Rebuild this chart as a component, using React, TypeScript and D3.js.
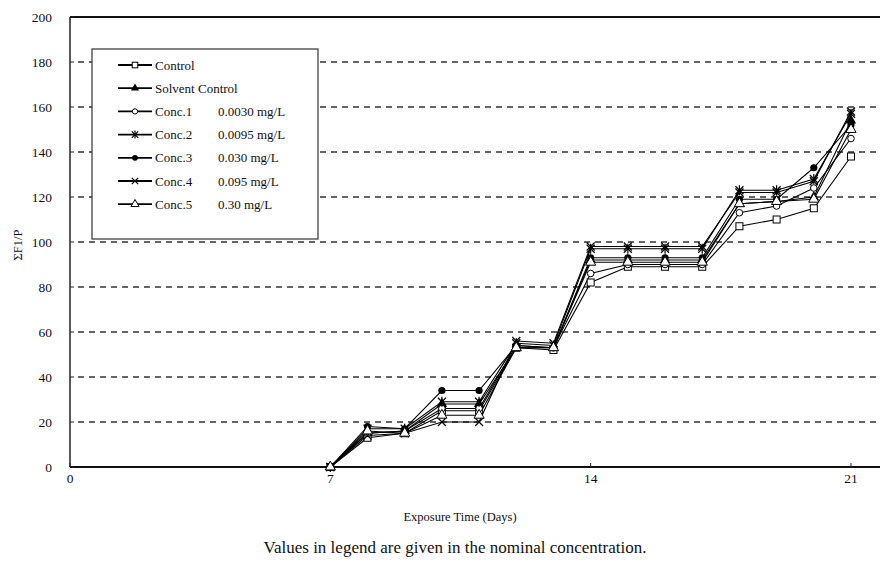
import React from "react";
import * as d3 from "d3";

const days = [7, 8, 9, 10, 11, 12, 13, 14, 15, 16, 17, 18, 19, 20, 21];
const control = [0, 13, 15, 25, 25, 53, 52, 82, 89, 89, 89, 107, 110, 115, 138];
const solventControl = [0, 15, 16, 28, 28, 53, 53, 92, 92, 92, 92, 117, 118, 120, 154];
const conc1 = [0, 15, 16, 26, 26, 54, 53, 86, 90, 90, 90, 113, 116, 124, 146];
const conc2 = [0, 17, 17, 29, 29, 55, 54, 97, 97, 97, 97, 123, 123, 128, 157];
const conc3 = [0, 18, 17, 34, 34, 54, 53, 93, 93, 93, 93, 119, 119, 133, 152];
const conc4 = [0, 14, 15, 20, 20, 56, 55, 98, 98, 98, 98, 122, 122, 127, 158];
const conc5 = [0, 16, 15, 23, 23, 53, 53, 91, 91, 91, 91, 117, 118, 119, 150];

const seriesNames = ["Control", "Solvent Control", "Conc.1", "Conc.2", "Conc.3", "Conc.4", "Conc.5"];
const seriesConc = ["", "", "0.0030 mg/L", "0.0095 mg/L", "0.030 mg/L", "0.095 mg/L", "0.30 mg/L"];
const seriesMarkers = ["squareOpen", "triangleFilled", "circleOpen", "star", "circleFilled", "cross", "triangleOpen"];
const seriesValues = [control, solventControl, conc1, conc2, conc3, conc4, conc5];

const yTicks = [0, 20, 40, 60, 80, 100, 120, 140, 160, 180, 200];
const xTicks = [0, 7, 14, 21];

const W = 880;
const H = 566;
const left = 70;
const right = 880;
const top = 17;
const bottom = 467;

const x = d3.scaleLinear().domain([0, 21.78]).range([left, right]);
const y = d3.scaleLinear().domain([0, 200]).range([bottom, top]);

const font = "Liberation Serif";

function Marker({ type, cx, cy, k = 1 }: { type: string; cx: number; cy: number; k?: number }) {
  const s = 3.5 * k;
  switch (type) {
    case "squareOpen":
      return <rect x={cx - s} y={cy - s} width={2 * s} height={2 * s} fill="#fff" stroke="#000" strokeWidth={1} />;
    case "triangleFilled":
      return <path d={d3.symbol(d3.symbolTriangle, 45 * k * k)()!} transform={`translate(${cx},${cy})`} fill="#000" />;
    case "triangleOpen":
      return <path d={d3.symbol(d3.symbolTriangle, 45 * k * k)()!} transform={`translate(${cx},${cy})`} fill="#fff" stroke="#000" strokeWidth={1} />;
    case "circleOpen":
      return <circle cx={cx} cy={cy} r={3.3 * k} fill="#fff" stroke="#000" strokeWidth={1} />;
    case "circleFilled":
      return <circle cx={cx} cy={cy} r={3.6 * k} fill="#000" />;
    case "cross":
      return (
        <g stroke="#000" strokeWidth={1.2}>
          <line x1={cx - 4 * k} y1={cy - 4 * k} x2={cx + 4 * k} y2={cy + 4 * k} />
          <line x1={cx - 4 * k} y1={cy + 4 * k} x2={cx + 4 * k} y2={cy - 4 * k} />
        </g>
      );
    case "star":
      return (
        <g stroke="#000" strokeWidth={1.2}>
          <line x1={cx - 4 * k} y1={cy - 4 * k} x2={cx + 4 * k} y2={cy + 4 * k} />
          <line x1={cx - 4 * k} y1={cy + 4 * k} x2={cx + 4 * k} y2={cy - 4 * k} />
          <line x1={cx} y1={cy - 5 * k} x2={cx} y2={cy + 5 * k} />
        </g>
      );
    default:
      return null;
  }
}

export default function App() {
  const line = d3
    .line<number>()
    .x((_, i) => x(days[i]))
    .y((v) => y(v));

  const legX = 92;
  const legY = 49;
  const legW = 226;
  const legH = 190;
  const rowGap = 23.2;

  return (
    <svg width={W} height={H} style={{ position: "absolute", left: 0, top: 0, background: "#fff" }}>
      <rect x={0} y={0} width={W} height={H} fill="#fff" />
      {yTicks
        .filter((t) => t > 0 && t < 200)
        .map((t) => (
          <line key={t} x1={left + 8} x2={right} y1={y(t)} y2={y(t)} stroke="#333" strokeWidth={1.4} strokeDasharray="6,5" />
        ))}
      <line x1={left} x2={right} y1={top} y2={top} stroke="#111" strokeWidth={2} />
      <line x1={left} x2={left} y1={top} y2={bottom} stroke="#222" strokeWidth={1.5} />
      <line x1={left} x2={right} y1={bottom} y2={bottom} stroke="#111" strokeWidth={2.2} />
      {yTicks.map((t) => (
        <g key={t}>
          <line x1={left} x2={left + 4} y1={y(t)} y2={y(t)} stroke="#222" />
          <text x={52} y={y(t)} dy="0.35em" textAnchor="end" fontSize={13.5} fill="#111" style={{ fontFamily: font }}>
            {t}
          </text>
        </g>
      ))}
      {xTicks.map((t) => (
        <g key={t}>
          <line x1={x(t)} x2={x(t)} y1={bottom} y2={bottom - 4} stroke="#222" />
          <text x={x(t)} y={bottom + 16} textAnchor="middle" fontSize={13.5} fill="#111" style={{ fontFamily: font }}>
            {t}
          </text>
        </g>
      ))}
      <text x={460} y={521} textAnchor="middle" fontSize={12.5} fill="#111" style={{ fontFamily: font }}>
        Exposure Time (Days)
      </text>
      <text transform={`translate(22,245) rotate(-90)`} textAnchor="middle" fontSize={12.5} fill="#111" style={{ fontFamily: font }}>
        ΣF1/P
      </text>
      <text x={455} y={553} textAnchor="middle" fontSize={17} fill="#111" style={{ fontFamily: font }}>
        Values in legend are given in the nominal concentration.
      </text>
      {seriesValues.map((vals, si) => (
        <path key={si} d={line(vals)!} fill="none" stroke="#000" strokeWidth={1.1} />
      ))}
      {seriesValues.map((vals, si) =>
        vals.map((v, i) => <Marker key={`${si}-${i}`} type={seriesMarkers[si]} cx={x(days[i])} cy={y(v)} />)
      )}
      <rect x={legX} y={legY} width={legW} height={legH} fill="#fff" stroke="#333" strokeWidth={1.2} />
      {seriesNames.map((name, i) => {
        const ry = 65 + i * rowGap;
        return (
          <g key={name}>
            <line x1={118} x2={152} y1={ry} y2={ry} stroke="#000" strokeWidth={1.8} />
            <Marker type={seriesMarkers[i]} cx={135} cy={ry} k={0.8} />
            <text x={155} y={ry} dy="0.35em" fontSize={13} fill="#111" style={{ fontFamily: font }}>
              {name}
            </text>
            {seriesConc[i] && (
              <text x={218} y={ry} dy="0.35em" fontSize={13} fill="#111" style={{ fontFamily: font }}>
                {seriesConc[i]}
              </text>
            )}
          </g>
        );
      })}
    </svg>
  );
}
